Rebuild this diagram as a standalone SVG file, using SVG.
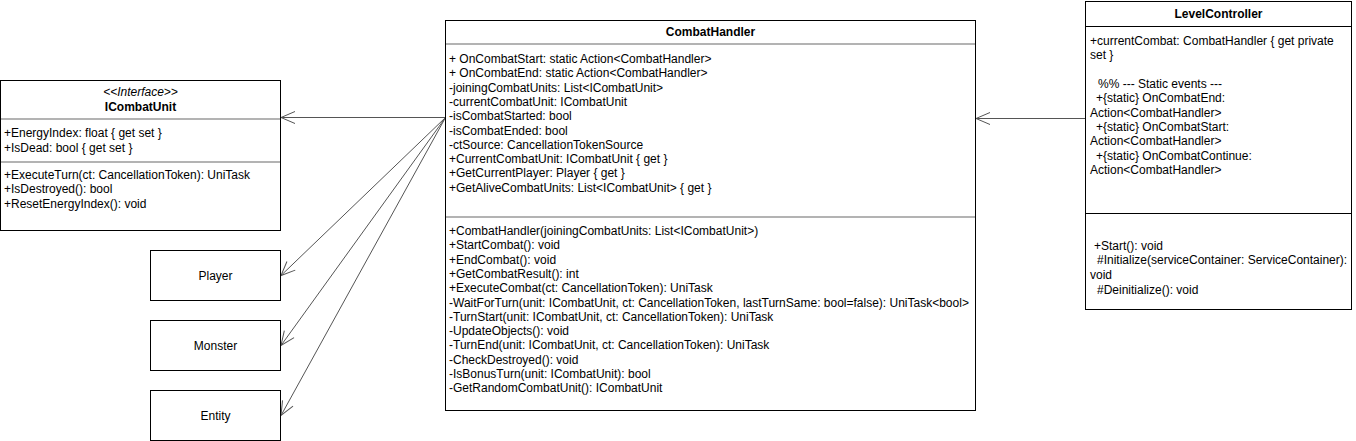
<svg xmlns="http://www.w3.org/2000/svg" width="1356" height="441" viewBox="0 0 1356 441">
<style>
text{font-family:"Liberation Sans",Arial,sans-serif;font-size:12px;fill:#000}
.t{font-weight:bold;text-anchor:middle}
.c{text-anchor:middle}
.box{fill:#fff;stroke:#000;stroke-width:1}
.div{stroke:#b3b3b3;stroke-width:2}
.bdiv{stroke:#000;stroke-width:1}
.conn{fill:none;stroke:#555;stroke-width:1}
</style>
<defs>
<marker id="open" markerUnits="userSpaceOnUse" markerWidth="20" markerHeight="20" refX="0" refY="0" orient="auto" overflow="visible">
<path d="M-14,-6 L0,0 L-14,6" fill="none" stroke="#555" stroke-width="1"/>
</marker>
</defs>
<rect width="1356" height="441" fill="#fff"/>
<g id="connectors">
<line class="conn" x1="445.5" y1="117.5" x2="281" y2="117.5" marker-end="url(#open)"/>
<line class="conn" x1="445.5" y1="117.5" x2="281" y2="275.5" marker-end="url(#open)"/>
<line class="conn" x1="445.5" y1="117.5" x2="281" y2="345.5" marker-end="url(#open)"/>
<line class="conn" x1="445.5" y1="117.5" x2="281" y2="415.5" marker-end="url(#open)"/>
<line class="conn" x1="1085.5" y1="118.5" x2="976" y2="118.5" marker-end="url(#open)"/>
</g>
<g id="ICombatUnit">
<rect class="box" x="0.5" y="80.5" width="280" height="150"/>
<line class="div" x1="1" y1="119" x2="280" y2="119"/>
<line class="div" x1="1" y1="162" x2="280" y2="162"/>
<text class="c" x="140.5" y="96" font-style="italic">&lt;&lt;Interface&gt;&gt;</text>
<text class="t" x="140.5" y="111">ICombatUnit</text>
<text x="4" y="137">+EnergyIndex: float { get set }</text>
<text x="4" y="151.5">+IsDead: bool { get set }</text>
<text x="4" y="179">+ExecuteTurn(ct: CancellationToken): UniTask</text>
<text x="4" y="193.3">+IsDestroyed(): bool</text>
<text x="4" y="207.6">+ResetEnergyIndex(): void</text>
</g>
<g id="Player">
<rect class="box" x="150.5" y="250.5" width="130" height="50"/>
<text class="c" x="215.5" y="279.5">Player</text>
</g>
<g id="Monster">
<rect class="box" x="150.5" y="320.5" width="130" height="50"/>
<text class="c" x="215.5" y="349.5">Monster</text>
</g>
<g id="Entity">
<rect class="box" x="150.5" y="390.5" width="130" height="50"/>
<text class="c" x="215.5" y="419.5">Entity</text>
</g>
<g id="CombatHandler">
<rect class="box" x="445.5" y="20.5" width="530" height="390"/>
<line class="div" x1="446" y1="44" x2="975" y2="44"/>
<line class="div" x1="446" y1="217" x2="975" y2="217"/>
<text class="t" x="710.5" y="36">CombatHandler</text>
<text x="449" y="63">+ OnCombatStart: static Action&lt;CombatHandler&gt;</text>
<text x="449" y="77.3">+ OnCombatEnd: static Action&lt;CombatHandler&gt;</text>
<text x="449" y="91.6">-joiningCombatUnits: List&lt;ICombatUnit&gt;</text>
<text x="449" y="105.9">-currentCombatUnit: ICombatUnit</text>
<text x="449" y="120.2">-isCombatStarted: bool</text>
<text x="449" y="134.5">-isCombatEnded: bool</text>
<text x="449" y="148.8">-ctSource: CancellationTokenSource</text>
<text x="449" y="163.1">+CurrentCombatUnit: ICombatUnit { get }</text>
<text x="449" y="177.4">+GetCurrentPlayer: Player { get }</text>
<text x="449" y="191.7">+GetAliveCombatUnits: List&lt;ICombatUnit&gt; { get }</text>
<text x="449" y="235">+CombatHandler(joiningCombatUnits: List&lt;ICombatUnit&gt;)</text>
<text x="449" y="249.3">+StartCombat(): void</text>
<text x="449" y="263.6">+EndCombat(): void</text>
<text x="449" y="277.9">+GetCombatResult(): int</text>
<text x="449" y="292.2">+ExecuteCombat(ct: CancellationToken): UniTask</text>
<text x="449" y="306.5">-WaitForTurn(unit: ICombatUnit, ct: CancellationToken, lastTurnSame: bool=false): UniTask&lt;bool&gt;</text>
<text x="449" y="320.8">-TurnStart(unit: ICombatUnit, ct: CancellationToken): UniTask</text>
<text x="449" y="335.1">-UpdateObjects(): void</text>
<text x="449" y="349.4">-TurnEnd(unit: ICombatUnit, ct: CancellationToken): UniTask</text>
<text x="449" y="363.7">-CheckDestroyed(): void</text>
<text x="449" y="378">-IsBonusTurn(unit: ICombatUnit): bool</text>
<text x="449" y="392.3">-GetRandomCombatUnit(): ICombatUnit</text>
</g>
<g id="LevelController">
<rect class="box" x="1085.5" y="1.5" width="266" height="308"/>
<line class="bdiv" x1="1086" y1="26.5" x2="1351" y2="26.5"/>
<line class="bdiv" x1="1086" y1="213.5" x2="1351" y2="213.5"/>
<text class="t" x="1218.5" y="18">LevelController</text>
<text x="1090" y="44.6">+currentCombat: CombatHandler { get private</text>
<text x="1090" y="59">set }</text>
<text x="1098" y="87.8">%% --- Static events ---</text>
<text x="1096" y="102.2">+{static} OnCombatEnd:</text>
<text x="1090" y="116.6">Action&lt;CombatHandler&gt;</text>
<text x="1096" y="131">+{static} OnCombatStart:</text>
<text x="1090" y="145.4">Action&lt;CombatHandler&gt;</text>
<text x="1096" y="159.8">+{static} OnCombatContinue:</text>
<text x="1090" y="174.2">Action&lt;CombatHandler&gt;</text>
<text x="1094" y="249.6">+Start(): void</text>
<text x="1097" y="264.4">#Initialize(serviceContainer: ServiceContainer):</text>
<text x="1090" y="279">void</text>
<text x="1097" y="294">#Deinitialize(): void</text>
</g>
</svg>
